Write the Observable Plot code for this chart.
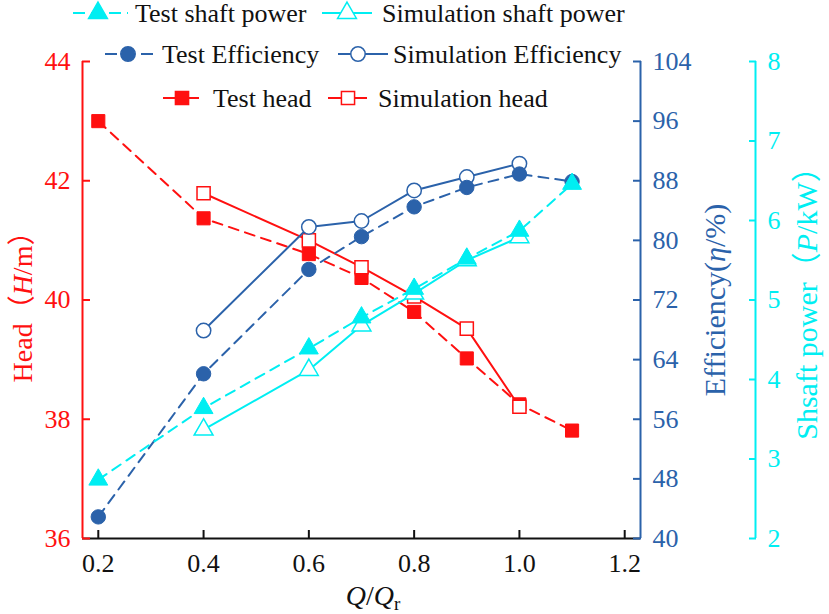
<!DOCTYPE html>
<html>
<head>
<meta charset="utf-8">
<script src="https://cdn.jsdelivr.net/npm/d3@7"></script>
<script src="https://cdn.jsdelivr.net/npm/@observablehq/plot@0.6"></script>
<style>
  html, body { margin: 0; padding: 0; background: white; }
  #wrap { position: relative; width: 829px; height: 614px; overflow: hidden; }
  #wrap svg { position: absolute; left: 0; top: 0; }
</style>
</head>
<body>
<div id="wrap"></div>
<script>
// ---- data ----
const qTest = [0.2, 0.4, 0.6, 0.7, 0.8, 0.9, 1.0, 1.1];
const qSim  = [0.4, 0.6, 0.7, 0.8, 0.9, 1.0];
const headTest = [43.0, 41.37, 40.77, 40.37, 39.80, 39.02, 38.25, 37.81];
const headSim  = [41.79, 41.0, 40.55, 40.06, 39.52, 38.21];
const effTest = [42.9, 62.1, 76.1, 80.5, 84.5, 87.1, 88.9, 87.9];
const effSim  = [67.9, 81.8, 82.6, 86.7, 88.5, 90.3];
const powTest = [2.74, 3.64, 4.39, 4.78, 5.14, 5.52, 5.87, 6.46];
const powSim  = [3.37, 4.12, 4.68, 5.08, 5.50, 5.79];

const xTicks = [0.2, 0.4, 0.6, 0.8, 1.0, 1.2];
const headTicks = [36, 38, 40, 42, 44];
const effTicks = [40, 48, 56, 64, 72, 80, 88, 96, 104];
const powTicks = [2, 3, 4, 5, 6, 7, 8];

const legendRows = [
  [{label: "Test shaft power", series: "powTest"}, {label: "Simulation shaft power", series: "powSim"}],
  [{label: "Test Efficiency", series: "effTest"}, {label: "Simulation Efficiency", series: "effSim"}],
  [{label: "Test head", series: "headTest"}, {label: "Simulation head", series: "headSim"}]
];

// ---- styles ----
const RED = "#ff1010", BLUE = "#2b62aa", CYAN = "#00eef2";
const FONT = "'Liberation Serif', 'Times New Roman', 'Noto Sans CJK SC', serif";
const DASH = "10,7";

// secondary scales mapped into the head domain
const headDom = [36, 44], effDom = [40, 104], powDom = [2, 8];
const effToHead = e => headDom[0] + (e - effDom[0]) * (headDom[1] - headDom[0]) / (effDom[1] - effDom[0]);
const powToHead = p => headDom[0] + (p - powDom[0]) * (headDom[1] - headDom[0]) / (powDom[1] - powDom[0]);
const headToEff = h => effDom[0] + (h - headDom[0]) * (effDom[1] - effDom[0]) / (headDom[1] - headDom[0]);
const headToPow = h => powDom[0] + (h - headDom[0]) * (powDom[1] - powDom[0]) / (headDom[1] - headDom[0]);

const testT = qTest.map((q, i) => ({q, head: headTest[i], eff: effToHead(effTest[i]), pow: powToHead(powTest[i])}));
const simT  = qSim.map((q, i) => ({q, head: headSim[i], eff: effToHead(effSim[i]), pow: powToHead(powSim[i])}));

const xDom = [0.17, 1.23];
const W = 829, H = 614, mL = 82, mR = 189, mT = 61, mB = 76;
const cyanOffset = 115;
const FS = 26;

const chart = Plot.plot({
  width: W, height: H,
  marginLeft: mL, marginRight: mR, marginTop: mT, marginBottom: mB,
  style: {fontFamily: FONT, background: "white", overflow: "visible"},
  x: {domain: xDom, axis: null, label: null},
  y: {domain: headDom, axis: null, label: null},
  marks: [
    // axis lines
    Plot.ruleY([headDom[0]], {stroke: "#111", strokeWidth: 2}),
    Plot.ruleX([xDom[0]], {stroke: RED, strokeWidth: 2}),
    Plot.ruleX([xDom[1]], {stroke: BLUE, strokeWidth: 2}),
    Plot.ruleX([xDom[1]], {stroke: CYAN, strokeWidth: 2, dx: cyanOffset}),
    // x axis
    Plot.axisX({ticks: xTicks, anchor: "bottom", label: null, tickSize: 8, dy: -8, tickFormat: () => "", stroke: "#111", strokeWidth: 2}),
    Plot.axisX({ticks: xTicks, anchor: "bottom", label: null, tickSize: 0, tickPadding: 15, tickFormat: d3.format(".1f"), fill: "#111", fontSize: FS, fontFamily: FONT}),
    // head axis (left)
    Plot.axisY({ticks: headTicks, anchor: "left", label: null, tickSize: 8, dx: 8, tickFormat: () => "", stroke: RED, strokeWidth: 2}),
    Plot.axisY({ticks: headTicks, anchor: "left", label: null, tickSize: 0, tickPadding: 12, fill: RED, fontSize: FS, fontFamily: FONT}),
    // efficiency axis (right)
    Plot.axisY({ticks: effTicks.map(effToHead), anchor: "right", label: null, tickSize: 8, dx: -8, tickFormat: () => "", stroke: BLUE, strokeWidth: 2}),
    Plot.axisY({ticks: effTicks.map(effToHead), anchor: "right", label: null, tickSize: 0, tickPadding: 12, tickFormat: h => Math.round(headToEff(h)), fill: BLUE, fontSize: FS, fontFamily: FONT}),
    // power axis (far right)
    Plot.axisY({ticks: powTicks.map(powToHead), anchor: "right", label: null, tickSize: 7, dx: cyanOffset - 7, tickFormat: () => "", stroke: CYAN, strokeWidth: 2}),
    Plot.axisY({ticks: powTicks.map(powToHead), anchor: "right", label: null, tickSize: 0, tickPadding: 12, dx: cyanOffset, tickFormat: h => Math.round(headToPow(h)), fill: CYAN, fontSize: FS, fontFamily: FONT}),

    // head
    Plot.line(testT, {x: "q", y: "head", stroke: RED, strokeWidth: 2, strokeDasharray: DASH}),
    Plot.dot(testT, {x: "q", y: "head", symbol: "square", r: 7.4, fill: RED, stroke: RED, strokeWidth: 1}),
    Plot.line(simT, {x: "q", y: "head", stroke: RED, strokeWidth: 2}),
    Plot.dot(simT, {x: "q", y: "head", symbol: "square", r: 7.4, fill: "white", stroke: RED, strokeWidth: 1.5}),
    // efficiency
    Plot.line(simT, {x: "q", y: "eff", stroke: BLUE, strokeWidth: 2}),
    Plot.dot(simT, {x: "q", y: "eff", symbol: "circle", r: 7.2, fill: "white", stroke: BLUE, strokeWidth: 1.5}),
    Plot.line(testT, {x: "q", y: "eff", stroke: BLUE, strokeWidth: 2, strokeDasharray: DASH}),
    Plot.dot(testT, {x: "q", y: "eff", symbol: "circle", r: 7.2, fill: BLUE, stroke: BLUE, strokeWidth: 1}),
    // shaft power
    Plot.line(simT, {x: "q", y: "pow", stroke: CYAN, strokeWidth: 2}),
    Plot.dot(simT, {x: "q", y: "pow", symbol: "triangle", r: 7, fill: "white", stroke: CYAN, strokeWidth: 1.5}),
    Plot.line(testT, {x: "q", y: "pow", stroke: CYAN, strokeWidth: 2, strokeDasharray: DASH}),
    Plot.dot(testT, {x: "q", y: "pow", symbol: "triangle", r: 7, fill: CYAN, stroke: CYAN, strokeWidth: 1})
  ]
});

document.getElementById("wrap").appendChild(chart);

// ---- axis titles ----
const svg = d3.select(chart);
function vTitle(x, y, color, size, parts) {
  const t = svg.append("text")
    .attr("transform", `translate(${x},${y}) rotate(-90)`)
    .attr("text-anchor", "middle").attr("dy", "0.35em")
    .attr("fill", color).attr("font-family", FONT).attr("font-size", size);
  parts.forEach(p => t.append("tspan").attr("font-style", p.i ? "italic" : null).text(p.t));
}
vTitle(22, 300, RED, 28, [{t: "Head（"}, {t: "H", i: true}, {t: "/m）"}]);
vTitle(714, 300, BLUE, 30, [{t: "Efficiency("}, {t: "η", i: true}, {t: "/%)"}]);
vTitle(806, 296, CYAN, 30, [{t: "Shsaft power（"}, {t: "P", i: true}, {t: "/kW）"}]);

const xl = svg.append("text").attr("x", 373).attr("y", 605).attr("text-anchor", "middle")
  .attr("fill", "#111").attr("font-family", FONT).attr("font-size", 28);
xl.append("tspan").attr("font-style", "italic").text("Q");
xl.append("tspan").text("/");
xl.append("tspan").attr("font-style", "italic").text("Q");
xl.append("tspan").attr("font-size", 19).attr("dy", 5).text("r");

// ---- legend ----
const legendStyle = {
  powTest: {color: CYAN, dash: "12,6", sym: d3.symbolTriangle, fill: true},
  powSim:  {color: CYAN, dash: null, sym: d3.symbolTriangle, fill: false},
  effTest: {color: BLUE, dash: "12,6", sym: d3.symbolCircle, fill: true},
  effSim:  {color: BLUE, dash: null, sym: d3.symbolCircle, fill: false},
  headTest:{color: RED, dash: null, sym: d3.symbolSquare, fill: true},
  headSim: {color: RED, dash: null, sym: d3.symbolSquare, fill: false}
};
const symSize = {powTest: Math.PI*49, powSim: Math.PI*49, effTest: Math.PI*52, effSim: Math.PI*52, headTest: Math.PI*55, headSim: Math.PI*55};
// legend layout: [lineStart, lineEnd, markerX, textX] per item, row y
const legendLayout = [
  {y: 13, items: [[73, 128, 98, 135], [322, 372, 347, 382]]},
  {y: 54, items: [[105, 155, 128, 162], [338, 388, 358, 393]]},
  {y: 98, items: [[163, 199, 182, 213], [328, 367, 348, 378]]}
];
const lg = svg.append("g");
legendRows.forEach((row, r) => {
  const L = legendLayout[r];
  row.forEach((item, k) => {
    const [x0, x1, mx, tx] = L.items[k];
    const st = legendStyle[item.series];
    lg.append("line").attr("x1", x0).attr("x2", x1).attr("y1", L.y).attr("y2", L.y)
      .attr("stroke", st.color).attr("stroke-width", 2)
      .attr("stroke-dasharray", st.dash);
    lg.append("path").attr("d", d3.symbol(st.sym, symSize[item.series])())
      .attr("transform", `translate(${mx},${L.y})`)
      .attr("fill", st.fill ? st.color : "white").attr("stroke", st.color).attr("stroke-width", 1.5);
    lg.append("text").attr("x", tx).attr("y", L.y).attr("dy", "0.35em")
      .attr("text-anchor", "start")
      .attr("fill", "#111").attr("font-family", FONT).attr("font-size", FS).text(item.label);
  });
});
</script>
</body>
</html>
